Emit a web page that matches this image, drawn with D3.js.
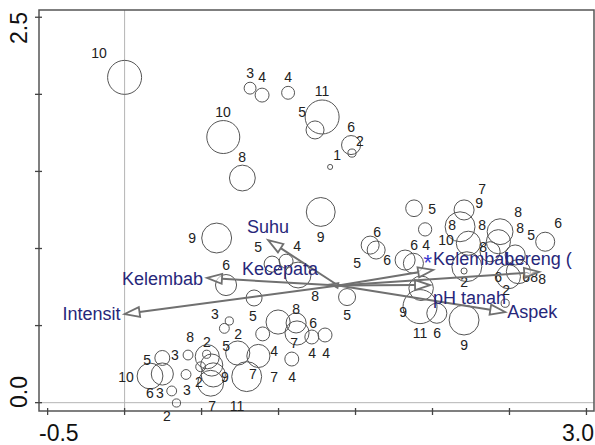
<!DOCTYPE html>
<html><head><meta charset="utf-8">
<script src="https://cdn.jsdelivr.net/npm/d3@7"></script>
<style>
html,body{margin:0;padding:0;background:#fff;}
svg{display:block;font-family:"Liberation Sans",Arial,sans-serif;}
</style></head>
<body><svg id="c" width="595" height="445"></svg>
<script>
// ---- data (ordination scores) ----
const xTicks = [-0.5, 0, 0.5, 1.0, 1.5, 2.0, 2.5, 3.0];
const yTicks = [0, 0.5, 1.0, 1.5, 2.0, 2.5];
const xTickLabels = ["-0.5", "3.0"];
const yTickLabels = ["0.0", "2.5"];

// sample scores: [axis1, axis2, weight]
const sites = [
 [0.00,2.11,10],[0.815,2.04,3.5],[0.893,1.995,4.1],[1.062,2.01,3.8],[1.283,1.853,10],
 [1.237,1.769,5.3],[1.471,1.671,5.6],[1.477,1.619,2.4],[1.335,1.529,1.5],[0.641,1.723,9.7],
 [0.765,1.457,7.6],[1.274,1.237,8.5],[0.598,1.068,8.8],[0.958,0.899,4.7],[1.049,0.918,4.1],
 [1.127,0.828,7.6],[0.659,0.763,6.2],[0.841,0.679,4.7],[1.445,0.685,5.0],[0.680,0.530,2.4],
 [0.648,0.482,2.9],[0.897,0.446,4.1],[0.997,0.523,7.1],[1.114,0.517,5.9],[1.120,0.452,7.1],
 [1.216,0.426,4.1],[1.302,0.439,4.1],[1.086,0.283,4.1],[0.869,0.303,6.8],[0.735,0.322,7.1],
 [0.793,0.169,8.8],[0.412,0.309,2.9],[0.165,0.173,7.6],[0.245,0.290,4.4],[0.245,0.186,6.5],
 [0.399,0.183,2.9],[0.306,0.076,2.9],[0.337,-0.002,2.4],[0.537,0.298,7.1],[0.566,0.244,6.5],
 [0.494,0.233,2.9],[0.533,0.314,2.4],[0.559,0.126,7.6],[0.576,0.180,7.1],
 [1.880,1.261,4.9],[1.952,1.124,3.9],[1.595,1.022,5.3],[1.634,0.990,5.3],[1.822,0.925,5.9],
 [1.876,0.904,5.9],[1.926,0.742,7.2],[1.919,0.623,10],[2.028,0.580,5.9],[2.205,0.536,8.8],
 [2.205,1.250,5.9],[2.179,1.141,8.8],[2.233,1.034,7.1],[2.223,0.882,8.8],[2.205,0.854,1.8],
 [2.439,1.109,7.6],[2.428,1.044,7.1],[2.374,0.979,5.9],[2.732,1.044,5.6],[2.537,0.958,5.9],
 [2.493,0.817,7.1],[2.558,0.850,7.1],[2.472,0.645,2.4]
];

// sample labels: [text, axis1, axis2]
const siteLabels = [
 ["10",-0.166,2.267],["3",0.815,2.138],["4",0.893,2.112],["4",1.062,2.112],["11",1.283,2.021],
 ["5",1.153,1.885],["6",1.471,1.788],["2",1.529,1.697],["1",1.380,1.606],["10",0.639,1.885],
 ["8",0.763,1.594],["9",1.274,1.075],["9",0.438,1.068],
 ["5",0.867,1.010],["4",1.120,1.016],["6",0.659,0.893],["8",1.237,0.692],["5",1.445,0.569],
 ["3",0.587,0.575],["5",0.834,0.562],["2",0.737,0.446],["8",1.114,0.607],["6",1.224,0.517],
 ["7",1.101,0.387],["4",1.218,0.322],["4",1.309,0.322],["4",1.088,0.167],["4",0.971,0.335],
 ["5",0.659,0.367],["7",0.834,0.186],["7",0.971,0.167],["2",0.535,0.394],["9",0.652,0.167],
 ["2",0.483,0.134],["8",0.425,0.426],["7",0.568,-0.021],["11",0.730,-0.021],
 ["5",0.146,0.277],["3",0.327,0.309],["10",0.009,0.167],["6",0.165,0.063],["3",0.230,0.063],
 ["3",0.405,0.082],["2",0.275,-0.086],
 ["5",1.997,1.256],["6",1.640,1.107],["6",1.705,0.925],["5",1.510,0.906],["6",1.880,1.022],
 ["4",1.958,1.022],["9",1.809,0.588],["11",1.919,0.452],["6",2.030,0.452],["9",2.205,0.374],
 ["7",2.322,1.385],["9",2.303,1.295],["8",2.127,1.152],["8",2.322,1.152],["10",2.088,1.055],
 ["8",2.556,1.237],["8",2.569,1.133],["5",2.641,1.088],["6",2.816,1.166],["8",2.329,1.010],
 ["2",2.205,0.783],["6",2.426,0.815],["6",2.608,0.815],["8",2.660,0.815],["8",2.712,0.802],
 ["2",2.478,0.730]
];

// environmental arrows
const envOrigin = [1.387, 0.760];
const envNames = ["Suhu","Kecepata","Kelembab","Intensit","Kelembab","pH tanah","Lereng (","Aspek"];
const envX = [0.932, 1.341, 0.535, 0.000, 2.004, 1.984, 2.693, 2.472];
const envY = [1.055, 0.768, 0.809, 0.575, 0.861, 0.763, 0.848, 0.588];
const starPoint = [1.97, 0.93];

// ---- layout (pixels) ----
const frame = {l:39, r:594, t:10, b:411};
const labelLayout = [
 {anchor:"middle", dx:0,  dy:-13}, // Suhu
 {anchor:"end",    dx:-13,dy:-15}, // Kecepata
 {anchor:"end",    dx:-4, dy:1},   // Kelembab (left)
 {anchor:"end",    dx:-4, dy:0},   // Intensit
 {anchor:"start",  dx:0,  dy:-11}, // Kelembab (right)
 {anchor:"start",  dx:3,  dy:13},  // pH tanah
 {anchor:"middle", dx:-1, dy:-13}, // Lereng (
 {anchor:"start",  dx:2,  dy:0}    // Aspek
];

const svg = d3.select("#c");
const x = d3.scaleLinear().domain([-0.556, 3.049]).range([frame.l, frame.r]);
const y = d3.scaleLinear().domain([-0.054, 2.547]).range([frame.b, frame.t]);
const r = d3.scaleLinear().domain([0, 10]).range([0, 17]);

// zero lines
svg.append("line").attr("x1", x(0)).attr("x2", x(0)).attr("y1", frame.t).attr("y2", frame.b)
  .attr("stroke", "#b4b4b4").attr("stroke-width", 1);
svg.append("line").attr("x1", frame.l).attr("x2", frame.r).attr("y1", y(0)).attr("y2", y(0))
  .attr("stroke", "#b4b4b4").attr("stroke-width", 1);

// frame
svg.append("rect").attr("x", frame.l).attr("y", frame.t)
  .attr("width", frame.r - frame.l).attr("height", frame.b - frame.t)
  .attr("fill", "none").attr("stroke", "#555").attr("stroke-width", 1.5);

// ticks
svg.append("g").selectAll("line").data(xTicks).join("line")
  .attr("x1", d => x(d)).attr("x2", d => x(d)).attr("y1", frame.b - 3).attr("y2", frame.b + 4)
  .attr("stroke", "#444").attr("stroke-width", 1.3);
svg.append("g").selectAll("line").data(yTicks).join("line")
  .attr("y1", d => y(d)).attr("y2", d => y(d)).attr("x1", frame.l - 4).attr("x2", frame.l + 3)
  .attr("stroke", "#444").attr("stroke-width", 1.3);

// axis end labels
svg.append("text").text(xTickLabels[0]).attr("x", frame.l).attr("y", 441)
  .attr("font-size", 23).attr("fill", "#111").attr("text-anchor", "start");
svg.append("text").text(xTickLabels[1]).attr("x", frame.r).attr("y", 441)
  .attr("font-size", 23).attr("fill", "#111").attr("text-anchor", "end");
svg.append("text").text(yTickLabels[0]).attr("transform", `translate(27,${frame.b - 3}) rotate(-90)`)
  .attr("font-size", 23).attr("fill", "#111").attr("text-anchor", "start");
svg.append("text").text(yTickLabels[1]).attr("transform", `translate(27,${frame.t + 2}) rotate(-90)`)
  .attr("font-size", 23).attr("fill", "#111").attr("text-anchor", "end");

// sites
svg.append("g").selectAll("circle").data(sites).join("circle")
  .attr("cx", d => x(d[0])).attr("cy", d => y(d[1])).attr("r", d => r(d[2]))
  .attr("fill", "none").attr("stroke", "#555").attr("stroke-width", 1);

svg.append("g").selectAll("text").data(siteLabels).join("text")
  .attr("x", d => x(d[1])).attr("y", d => y(d[2])).text(d => d[0])
  .attr("text-anchor", "middle").attr("dominant-baseline", "central")
  .attr("font-size", 14).attr("fill", "#222");

// arrows
const ox = x(envOrigin[0]), oy = y(envOrigin[1]);
const ag = svg.append("g");
envNames.forEach((name, i) => {
  const tx = x(envX[i]), ty = y(envY[i]);
  const dx = tx - ox, dy = ty - oy;
  const len = Math.hypot(dx, dy);
  const ux = dx / len, uy = dy / len;
  const hl = Math.min(15, Math.max(7, len * 0.9)), hw = Math.min(5, hl / 3);
  const bx = tx - ux * hl, by = ty - uy * hl;
  ag.append("line").attr("x1", ox).attr("y1", oy).attr("x2", bx).attr("y2", by)
    .attr("stroke", "#707070").attr("stroke-width", 2);
  ag.append("path")
    .attr("d", `M${tx},${ty}L${bx - uy * hw},${by + ux * hw}L${bx + uy * hw},${by - ux * hw}Z`)
    .attr("fill", "#fff").attr("fill-opacity", 0.6).attr("stroke", "#707070").attr("stroke-width", 1.8);
});
envNames.forEach((name, i) => {
  const L = labelLayout[i];
  svg.append("text").text(name)
    .attr("x", x(envX[i]) + L.dx).attr("y", y(envY[i]) + L.dy)
    .attr("text-anchor", L.anchor).attr("dominant-baseline", "central")
    .attr("font-size", 18).attr("fill", "#27277a");
});
svg.append("text").text("*").attr("x", x(starPoint[0])).attr("y", y(starPoint[1]) + 3)
  .attr("text-anchor", "middle").attr("dominant-baseline", "central")
  .attr("font-size", 22).attr("fill", "#3a3ad0");
</script></body></html>
